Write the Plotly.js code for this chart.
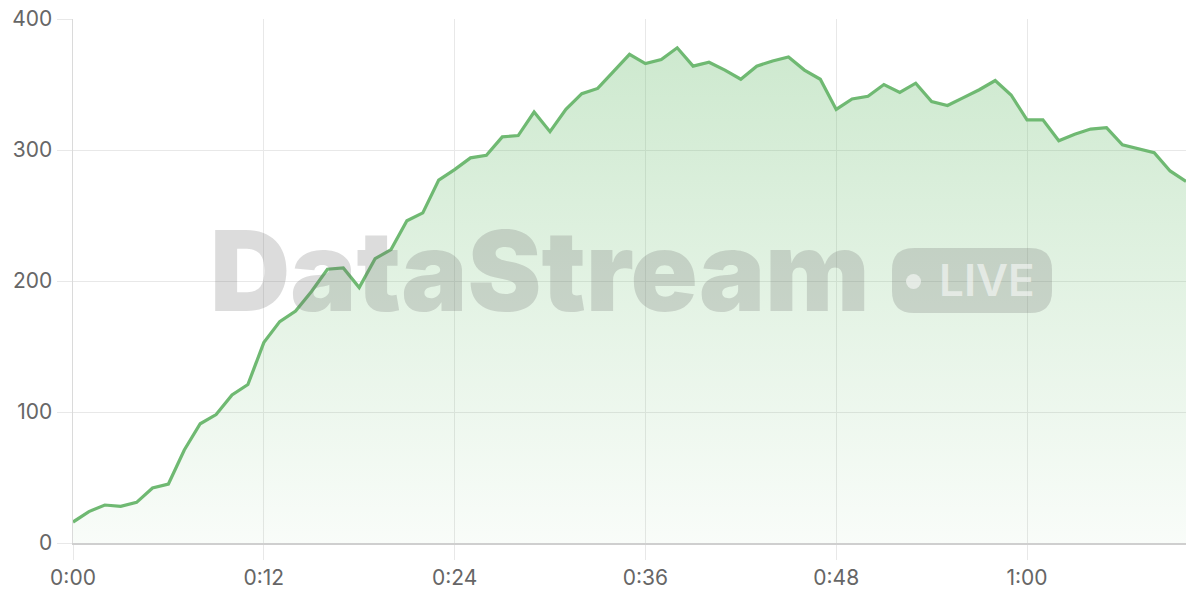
<!DOCTYPE html>
<html>
<head>
<meta charset="utf-8">
<script src="https://cdn.plot.ly/plotly-3.0.1.min.js"></script>
<style>
  html, body { margin: 0; padding: 0; background: #fff; }
  #chart { width: 1200px; height: 600px; }
</style>
</head>
<body>
<div id="chart"></div>
<script>
// seconds since start
const seconds = [0, 1, 2, 3, 4, 5, 6, 7, 8, 9, 10, 11, 12, 13, 14, 15, 16, 17, 18, 19,
  20, 21, 22, 23, 24, 25, 26, 27, 28, 29, 30, 31, 32, 33, 34, 35, 36, 37, 38, 39,
  40, 41, 42, 43, 44, 45, 46, 47, 48, 49, 50, 51, 52, 53, 54, 55, 56, 57, 58, 59,
  60, 61, 62, 63, 64, 65, 66, 67, 68, 69, 70];

const streamValues = [16, 24, 29, 28, 31, 42, 45, 71, 91, 98, 113, 121, 153, 169, 177, 192, 209, 210, 195, 217,
  224, 246, 252, 277, 285, 294, 296, 310, 311, 329, 314, 331, 343, 347, 360, 373, 366, 369, 378, 364,
  367, 361, 354, 364, 368, 371, 361, 354, 331, 339, 341, 350, 344, 351, 337, 334, 340, 346, 353, 342,
  323, 323, 307, 312, 316, 317, 304, 301, 298, 284, 276];

const xTickVals = [0, 12, 24, 36, 48, 60];
const xTickText = ['0:00', '0:12', '0:24', '0:36', '0:48', '1:00'];
const yTickVals = [0, 100, 200, 300, 400];

const W = 1200, H = 600;
const M = { l: 73, r: 14, t: 19, b: 57 };
const plotW = W - M.l - M.r, plotH = H - M.t - M.b;
// pixel -> paper helpers for the watermark
const px = x => (x - M.l) / plotW;
const py = y => (H - M.b - y) / plotH;

function roundRect(x0, y0, x1, y1, r) {
  const pts = [
    'M', px(x0 + r), py(y0),
    'L', px(x1 - r), py(y0),
    'Q', px(x1), py(y0), px(x1), py(y0 + r),
    'L', px(x1), py(y1 - r),
    'Q', px(x1), py(y1), px(x1 - r), py(y1),
    'L', px(x0 + r), py(y1),
    'Q', px(x0), py(y1), px(x0), py(y1 - r),
    'L', px(x0), py(y0 + r),
    'Q', px(x0), py(y0), px(x0 + r), py(y0), 'Z'
  ];
  return pts.join(' ').replace(/ (-?[\d.]+) (-?[\d.]+)/g, ' $1,$2');
}

const wmColor = 'rgba(110,110,110,0.24)';

const trace = {
  x: seconds,
  y: streamValues,
  type: 'scatter',
  mode: 'lines',
  line: { color: '#6fb972', width: 3.2 },
  fill: 'tozeroy',
  fillgradient: {
    type: 'vertical',
    start: 0,
    stop: 400,
    colorscale: [[0, 'rgba(102,187,106,0.04)'], [1, 'rgba(102,187,106,0.34)']]
  },
  hoverinfo: 'x+y'
};

const layout = {
  width: W,
  height: H,
  margin: M,
  paper_bgcolor: '#fff',
  plot_bgcolor: '#fff',
  showlegend: false,
  font: { family: 'Inter, "Liberation Sans", sans-serif', color: '#666', size: 21 },
  xaxis: {
    range: [0, 70],
    tickvals: xTickVals,
    ticktext: xTickText,
    showgrid: true,
    gridcolor: '#e8e8e8',
    gridwidth: 1,
    zeroline: false,
    showline: true,
    linecolor: '#cfcfcf',
    linewidth: 1.5,
    ticks: 'outside',
    ticklen: 15,
    tickcolor: '#e8e8e8',
    tickwidth: 1,
    tickfont: { size: 21, color: '#666' }
  },
  yaxis: {
    range: [0, 400],
    tickvals: yTickVals,
    showgrid: true,
    gridcolor: '#e8e8e8',
    gridwidth: 1,
    zeroline: false,
    showline: true,
    linecolor: '#dadada',
    linewidth: 1.5,
    ticks: 'outside',
    ticklen: 15,
    tickcolor: '#e8e8e8',
    tickwidth: 1,
    tickfont: { size: 21, color: '#666' }
  },
  shapes: [
    {
      type: 'path', xref: 'paper', yref: 'paper', layer: 'above',
      path: roundRect(892, 248, 1052, 313, 22),
      fillcolor: wmColor, line: { width: 0 }
    },
    {
      type: 'circle', xref: 'paper', yref: 'paper', layer: 'above',
      x0: px(906), x1: px(921), y0: py(274), y1: py(289),
      fillcolor: 'rgba(255,255,255,0.55)', line: { width: 0 }
    }
  ],
  annotations: [
    {
      xref: 'paper', yref: 'paper',
      x: px(540), y: py(270),
      xanchor: 'center', yanchor: 'middle',
      text: 'DataStream',
      showarrow: false,
      font: { family: 'Inter, sans-serif', size: 111, weight: 900, color: wmColor }
    },
    {
      xref: 'paper', yref: 'paper',
      x: px(987), y: py(280),
      xanchor: 'center', yanchor: 'middle',
      text: 'LIVE',
      showarrow: false,
      font: { family: 'Inter, sans-serif', size: 44, weight: 600, color: 'rgba(255,255,255,0.55)' }
    }
  ]
};

Plotly.newPlot('chart', [trace], layout, { displayModeBar: false, staticPlot: true });
</script>
</body>
</html>
